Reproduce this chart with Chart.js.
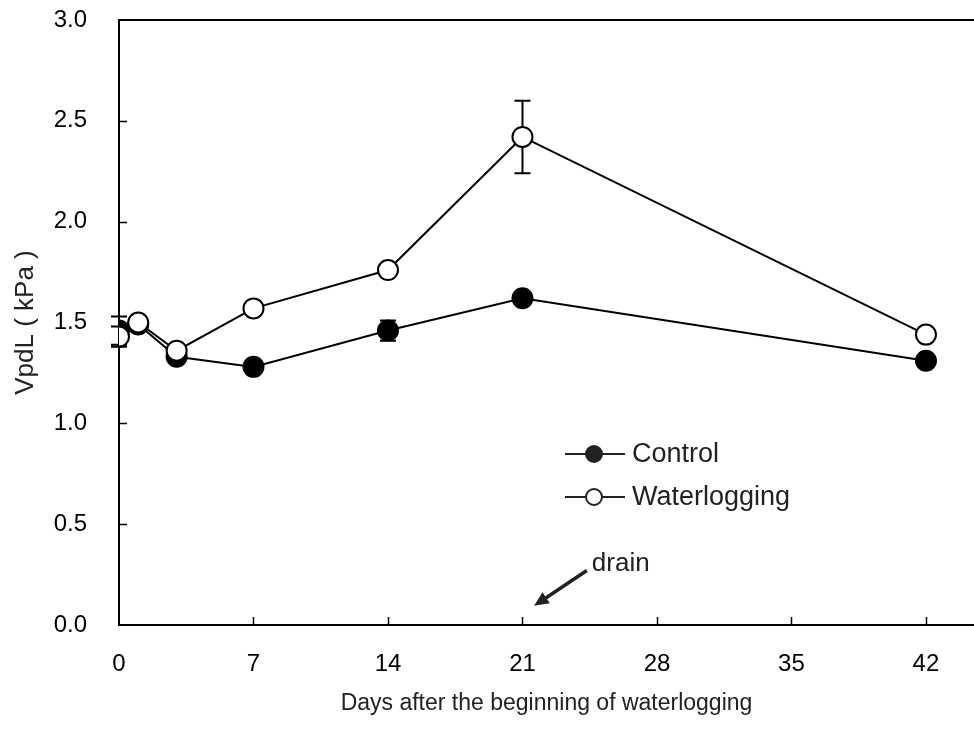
<!DOCTYPE html>
<html>
<head>
<meta charset="utf-8">
<script src="https://cdn.jsdelivr.net/npm/chart.js@4/dist/chart.umd.min.js"></script>
<style>
  html, body { margin: 0; padding: 0; background: #fff; }
  #wrap { width: 974px; height: 734px; }
</style>
</head>
<body>
<div id="wrap"><canvas id="c" width="974" height="734"></canvas></div>
<script>
// Leaf vapour pressure deficit (VpdL) over the waterlogging period
const days = [0, 1, 3, 7, 14, 21, 42];
const control = [1.46, 1.49, 1.33, 1.28, 1.46, 1.62, 1.31];
const controlSE = [0.07, 0.02, 0.02, 0.02, 0.05, 0.02, 0.03];
const waterlogging = [1.43, 1.50, 1.36, 1.57, 1.76, 2.42, 1.44];
const waterloggingSE = [0.05, 0.02, 0.02, 0.02, 0.03, 0.18, 0.02];
const xTicks = [0, 7, 14, 21, 28, 35, 42];
const yTicks = [0, 0.5, 1.0, 1.5, 2.0, 2.5, 3.0];
const seriesNames = ['Control', 'Waterlogging'];
const xTitle = 'Days after the beginning of waterlogging';
const yTitle = 'VpdL ( kPa )';
const drainLabel = 'drain';
// arrow marking the day the water was drained, in axis units
const drainArrow = { from: [24.35, 0.27], to: [21.6, 0.095] };

const FONT = "'Liberation Sans', Arial, sans-serif";
Chart.defaults.font.family = FONT;
Chart.defaults.color = '#000';

const toPoints = (vals) => days.map((d, i) => ({ x: d, y: vals[i] }));

// whiskers drawn beneath the markers
const errorBars = {
  id: 'errorBars',
  beforeDatasetsDraw(chart) {
    const { ctx, scales: { x, y } } = chart;
    const sets = [[control, controlSE], [waterlogging, waterloggingSE]];
    ctx.save();
    ctx.strokeStyle = '#000';
    ctx.lineWidth = 2;
    sets.forEach(([vals, errs]) => {
      days.forEach((d, i) => {
        const px = x.getPixelForValue(d);
        const top = y.getPixelForValue(vals[i] + errs[i]);
        const bot = y.getPixelForValue(vals[i] - errs[i]);
        ctx.beginPath();
        ctx.moveTo(px, top); ctx.lineTo(px, bot);
        ctx.moveTo(px - 8, top); ctx.lineTo(px + 8, top);
        ctx.moveTo(px - 8, bot); ctx.lineTo(px + 8, bot);
        ctx.stroke();
      });
    });
    ctx.restore();
  }
};

// top frame line and inward tick marks
const frame = {
  id: 'frame',
  afterDraw(chart) {
    const { ctx, chartArea: a, scales: { x, y } } = chart;
    ctx.save();
    ctx.strokeStyle = '#000';
    ctx.lineWidth = 2;
    ctx.beginPath();
    ctx.moveTo(a.left - 1, a.top);
    ctx.lineTo(chart.width, a.top);
    ctx.stroke();
    ctx.lineWidth = 1.5;
    ctx.beginPath();
    xTicks.slice(1).forEach(v => {
      const px = Math.round(x.getPixelForValue(v)) + 0.5;
      ctx.moveTo(px, a.bottom); ctx.lineTo(px, a.bottom - 8);
    });
    yTicks.slice(1, -1).forEach(v => {
      const py = Math.round(y.getPixelForValue(v)) + 0.5;
      ctx.moveTo(a.left, py); ctx.lineTo(a.left + 8, py);
    });
    ctx.stroke();
    ctx.restore();
  }
};

// legend inside the plot and the drain annotation
const notes = {
  id: 'notes',
  afterDatasetsDraw(chart) {
    const { ctx, chartArea: a, scales: { x, y } } = chart;
    ctx.save();
    const lx0 = a.left + 446, lx1 = a.left + 506, mx = a.left + 475;
    const rows = [a.top + 434, a.top + 477];
    ctx.font = '27px ' + FONT;
    ctx.textBaseline = 'middle';
    rows.forEach((ry, i) => {
      ctx.strokeStyle = '#222';
      ctx.lineWidth = 2;
      ctx.beginPath(); ctx.moveTo(lx0, ry); ctx.lineTo(lx1, ry); ctx.stroke();
      ctx.beginPath(); ctx.arc(mx, ry, 8, 0, Math.PI * 2);
      ctx.fillStyle = i === 0 ? '#222' : '#fff';
      ctx.fill();
      ctx.stroke();
      ctx.fillStyle = '#222';
      ctx.fillText(seriesNames[i], lx1 + 7, ry + 1);
    });

    const fx = x.getPixelForValue(drainArrow.from[0]), fy = y.getPixelForValue(drainArrow.from[1]);
    const tx = x.getPixelForValue(drainArrow.to[0]), ty = y.getPixelForValue(drainArrow.to[1]);
    const ang = Math.atan2(ty - fy, tx - fx);
    const head = 16;
    ctx.strokeStyle = '#222';
    ctx.fillStyle = '#222';
    ctx.lineWidth = 3.5;
    ctx.beginPath();
    ctx.moveTo(fx, fy);
    ctx.lineTo(tx - Math.cos(ang) * head * 0.8, ty - Math.sin(ang) * head * 0.8);
    ctx.stroke();
    ctx.beginPath();
    ctx.moveTo(tx, ty);
    ctx.lineTo(tx - head * Math.cos(ang - 0.42), ty - head * Math.sin(ang - 0.42));
    ctx.lineTo(tx - head * Math.cos(ang + 0.42), ty - head * Math.sin(ang + 0.42));
    ctx.closePath();
    ctx.fill();
    ctx.font = '26px ' + FONT;
    ctx.textBaseline = 'alphabetic';
    ctx.fillText(drainLabel, fx + 5, fy);
    ctx.restore();
  }
};

new Chart(document.getElementById('c'), {
  type: 'line',
  data: {
    datasets: [
      {
        label: seriesNames[0],
        data: toPoints(control),
        borderColor: '#000',
        borderWidth: 2,
        backgroundColor: '#000',
        pointBackgroundColor: '#000',
        pointBorderColor: '#000',
        pointBorderWidth: 2,
        pointRadius: 10,
        tension: 0,
        order: 2
      },
      {
        label: seriesNames[1],
        data: toPoints(waterlogging),
        borderColor: '#000',
        borderWidth: 2,
        backgroundColor: '#fff',
        pointBackgroundColor: '#fff',
        pointBorderColor: '#000',
        pointBorderWidth: 2,
        pointRadius: 10,
        tension: 0,
        order: 1
      }
    ]
  },
  options: {
    responsive: false,
    animation: false,
    events: [],
    layout: { autoPadding: false, padding: { top: 20, right: 0, bottom: 0, left: 0 } },
    plugins: { legend: { display: false }, tooltip: { enabled: false } },
    scales: {
      x: {
        type: 'linear',
        min: 0,
        max: 44.5,
        afterBuildTicks: (s) => { s.ticks = xTicks.map(v => ({ value: v })); },
        afterFit: (s) => { s.height = 109; s.paddingLeft = 0; s.paddingRight = 0; },
        grid: { display: true, drawOnChartArea: false, drawTicks: false },
        border: { display: true, color: '#000', width: 2 },
        ticks: { font: { size: 24 }, color: '#000', padding: 25, maxRotation: 0, callback: v => String(v) },
        title: { display: true, text: xTitle, font: { size: 23 }, color: '#222', padding: { top: 0, bottom: 17 } }
      },
      y: {
        min: 0,
        max: 3,
        afterBuildTicks: (s) => { s.ticks = yTicks.map(v => ({ value: v })); },
        afterFit: (s) => { s.width = 119; s.paddingTop = 0; s.paddingBottom = 0; },
        grid: { display: true, drawOnChartArea: false, drawTicks: false },
        border: { display: true, color: '#000', width: 2 },
        ticks: { font: { size: 24 }, color: '#000', padding: 32, callback: v => Number(v).toFixed(1) },
        title: { display: true, text: yTitle, font: { size: 26 }, color: '#222', padding: { top: 10, bottom: 0 } }
      }
    }
  },
  plugins: [errorBars, frame, notes]
});
</script>
</body>
</html>
